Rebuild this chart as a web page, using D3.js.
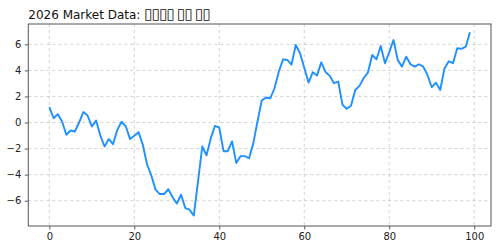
<!DOCTYPE html>
<html>
<head>
<meta charset="utf-8">
<script src="https://cdn.jsdelivr.net/npm/d3@7"></script>
<style>
  body { margin: 0; background: #fff; }
  text { font-family: "DejaVu Sans", sans-serif; }
</style>
</head>
<body>
<div id="chart"></div>
<script>
// title: the source font had no Korean glyphs, so it showed empty boxes
var titleHead = "2026 Market Data: ";
var titleBoxes = ["\u25AF\u25AF\u25AF\u25AF", "\u25AF\u25AF", "\u25AF\u25AF"];

// step index 0..99
var steps = d3.range(100);
var values = [
   1.18,  0.33,  0.64,  0.08, -0.94, -0.61, -0.69,  0.00,  0.80,  0.54,
  -0.30,  0.15, -1.00, -1.84, -1.27, -1.66, -0.56,  0.06, -0.30, -1.27,
  -1.02, -0.74, -1.71, -3.22, -4.06, -5.15, -5.49, -5.49, -5.12, -5.72,
  -6.22, -5.54, -6.56, -6.69, -7.14, -4.50, -1.84, -2.52, -1.20, -0.25,
  -0.40, -2.20, -2.20, -1.45, -3.10, -2.58, -2.58, -2.74, -1.60,  0.10,
   1.69,  1.92,  1.85,  2.63,  3.90,  4.85,  4.80,  4.45,  5.95,  5.32,
   4.20,  3.07,  3.85,  3.60,  4.62,  3.88,  3.58,  3.02,  3.14,  1.36,
   1.05,  1.28,  2.50,  2.81,  3.42,  3.85,  5.18,  4.85,  5.87,  4.55,
   5.40,  6.33,  4.80,  4.29,  5.05,  4.47,  4.29,  4.47,  4.29,  3.65,
   2.71,  3.06,  2.50,  4.15,  4.70,  4.55,  5.70,  5.65,  5.82,  6.92
];
var xTicks = [0, 20, 40, 60, 80, 100];
var yTicks = [-6, -4, -2, 0, 2, 4, 6];

var W = 500, H = 250;
var margin = {top: 24, right: 9, bottom: 24, left: 28.3};
var width = W - margin.left - margin.right,
    height = H - margin.top - margin.bottom;

var svg = d3.select("#chart").append("svg")
    .attr("width", W)
    .attr("height", H);

var g = svg.append("g")
    .attr("transform", "translate(" + margin.left + "," + margin.top + ")");

var x = d3.scaleLinear().domain([-4.95, 103.95]).range([0, width]);
var y = d3.scaleLinear().domain([-7.94, 7.56]).range([height, 0]);

var fmt = function(d) { return String(d).replace("-", "\u2212"); };

// grid
g.append("g").selectAll("line")
    .data(xTicks).enter().append("line")
    .attr("x1", function(d) { return x(d); }).attr("x2", function(d) { return x(d); })
    .attr("y1", 0).attr("y2", height)
    .attr("stroke", "#b0b0b0").attr("stroke-opacity", 0.7)
    .attr("stroke-width", 0.8).attr("stroke-dasharray", "3,3");
g.append("g").selectAll("line")
    .data(yTicks).enter().append("line")
    .attr("x1", 0).attr("x2", width)
    .attr("y1", function(d) { return y(d); }).attr("y2", function(d) { return y(d); })
    .attr("stroke", "#b0b0b0").attr("stroke-opacity", 0.7)
    .attr("stroke-width", 0.8).attr("stroke-dasharray", "3,3");

// axes
var xAxis = d3.axisBottom(x).tickValues(xTicks).tickSize(3.5).tickPadding(3.5).tickFormat(fmt);
var yAxis = d3.axisLeft(y).tickValues(yTicks).tickSize(3.5).tickPadding(3.5).tickFormat(fmt);

var gx = g.append("g")
    .attr("transform", "translate(0," + height + ")")
    .call(xAxis);
var gy = g.append("g").call(yAxis);

[gx, gy].forEach(function(a) {
  a.select(".domain").remove();
  a.selectAll(".tick line").attr("stroke", "#333").attr("stroke-width", 0.8);
  a.selectAll(".tick text")
      .attr("fill", "#222")
      .style("font-size", "10px")
      .style("font-family", "'DejaVu Sans', sans-serif");
});

// line
var line = d3.line()
    .x(function(d, i) { return x(steps[i]); })
    .y(function(d) { return y(d); });

g.append("path")
    .datum(values)
    .attr("fill", "none")
    .attr("stroke", "#1e90ff")
    .attr("stroke-width", 1.9)
    .attr("stroke-linejoin", "round")
    .attr("d", line);

// frame
g.append("rect")
    .attr("width", width).attr("height", height)
    .attr("fill", "none")
    .attr("stroke", "#555")
    .attr("stroke-width", 1);

var t = svg.append("text")
    .attr("x", margin.left)
    .attr("y", 19)
    .attr("fill", "#111")
    .style("font-size", "12px");
t.append("tspan").text(titleHead);
titleBoxes.forEach(function(b, i) {
  t.append("tspan")
      .attr("dx", i ? 3 : 0)
      .style("font-size", "15px")
      .style("letter-spacing", "-0.8px")
      .text(b);
});
</script>
</body>
</html>
